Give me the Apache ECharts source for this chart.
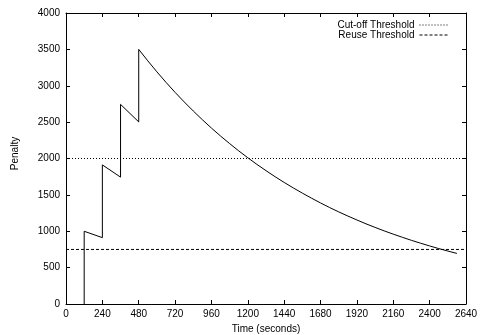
<!DOCTYPE html>
<html><head><meta charset="utf-8">
<script src="https://cdn.jsdelivr.net/npm/echarts@6/dist/echarts.min.js"></script>
<style>html,body{margin:0;padding:0;background:#fff}#c{width:481px;height:335px}</style>
</head><body><div id="c"></div>
<script>
// Flap phase: [time, penalty]
var flapTimes    = [120, 120, 240, 240, 360, 360, 480];
var flapPenalty  = [0, 1000, 912, 1912, 1744, 2744, 2503];
// Decay phase after last flap
var decayTimes   = [480, 540, 600, 660, 720, 780, 840, 900, 960, 1020, 1080, 1140, 1200, 1260, 1320, 1380, 1440, 1500, 1560, 1620, 1680, 1740, 1800, 1860, 1920, 1980, 2040, 2100, 2160, 2220, 2280, 2340, 2400, 2460, 2520, 2580];
var decayPenalty = [3500, 3342, 3191, 3047, 2909, 2778, 2653, 2533, 2418, 2309, 2205, 2105, 2010, 1919, 1833, 1750, 1671, 1596, 1524, 1455, 1389, 1326, 1266, 1209, 1155, 1102, 1053, 1005, 960, 917, 875, 836, 798, 762, 728, 695];
var cutoffThreshold = 2000;
var reuseThreshold  = 750;
var xTicks = [0, 240, 480, 720, 960, 1200, 1440, 1680, 1920, 2160, 2400, 2640];

var penaltyData = [];
for (var i = 0; i < flapTimes.length; i++) penaltyData.push([flapTimes[i], flapPenalty[i]]);
for (var j = 0; j < decayTimes.length; j++) penaltyData.push([decayTimes[j], decayPenalty[j]]);

var xMin = xTicks[0], xMax = xTicks[xTicks.length - 1];
var font = 'Liberation Sans, Arial, sans-serif';
function plain(v) { return String(v); }
var axisCommon = {
  axisLine: {show: true, onZero: false, lineStyle: {color: '#000', width: 1}},
  axisTick: {show: true, inside: true, length: 4, lineStyle: {color: '#000', width: 1}},
  splitLine: {show: false}
};
var chart = echarts.init(document.getElementById('c'), null, {renderer: 'canvas'});
chart.setOption({
  animation: false,
  backgroundColor: '#fff',
  textStyle: {fontFamily: font},
  grid: {left: 66, right: 15, top: 13, bottom: 31, containLabel: false, outerBoundsMode: 'none'},
  legend: {
    orient: 'vertical', right: 33, top: 20, align: 'right',
    itemWidth: 28, itemHeight: 8, itemGap: 0, padding: 0,
    itemStyle: {opacity: 0},
    lineStyle: {width: 1},
    textStyle: {fontFamily: font, fontSize: 10, color: '#000'},
    data: ['Cut-off Threshold', 'Reuse Threshold']
  },
  xAxis: [
    Object.assign({type: 'value', min: xMin, max: xMax, interval: 240, position: 'bottom',
      name: 'Time (seconds)', nameLocation: 'middle', nameGap: 20,
      nameTextStyle: {fontFamily: font, fontSize: 10, color: '#000'},
      axisLabel: {fontFamily: font, fontSize: 10, color: '#000', margin: 5, formatter: plain}}, axisCommon),
    Object.assign({type: 'value', min: xMin, max: xMax, interval: 240, position: 'top',
      axisLabel: {show: false}}, axisCommon)
  ],
  yAxis: [
    Object.assign({type: 'value', min: 0, max: 4000, interval: 500, position: 'left',
      name: 'Penalty', nameLocation: 'middle', nameGap: 46, nameRotate: 90,
      nameTextStyle: {fontFamily: font, fontSize: 10, color: '#000', padding: [0, 0, 0, 10]},
      axisLabel: {fontFamily: font, fontSize: 10, color: '#000', margin: 6, formatter: plain}}, axisCommon),
    Object.assign({type: 'value', min: 0, max: 4000, interval: 500, position: 'right',
      axisLabel: {show: false}}, axisCommon)
  ],
  series: [
    {name: 'Penalty', type: 'line', data: penaltyData, symbol: 'none',
      lineStyle: {color: '#000', width: 1}, z: 3},
    {name: 'Cut-off Threshold', type: 'line', data: [[xMin, cutoffThreshold], [xMax, cutoffThreshold]],
      symbol: 'none', lineStyle: {color: '#000', width: 1, type: [1, 2]}, itemStyle: {color: '#000'}},
    {name: 'Reuse Threshold', type: 'line', data: [[xMin, reuseThreshold], [xMax, reuseThreshold]],
      symbol: 'none', lineStyle: {color: '#000', width: 1, type: [3, 2]}, itemStyle: {color: '#000'}}
  ]
});
</script></body></html>
